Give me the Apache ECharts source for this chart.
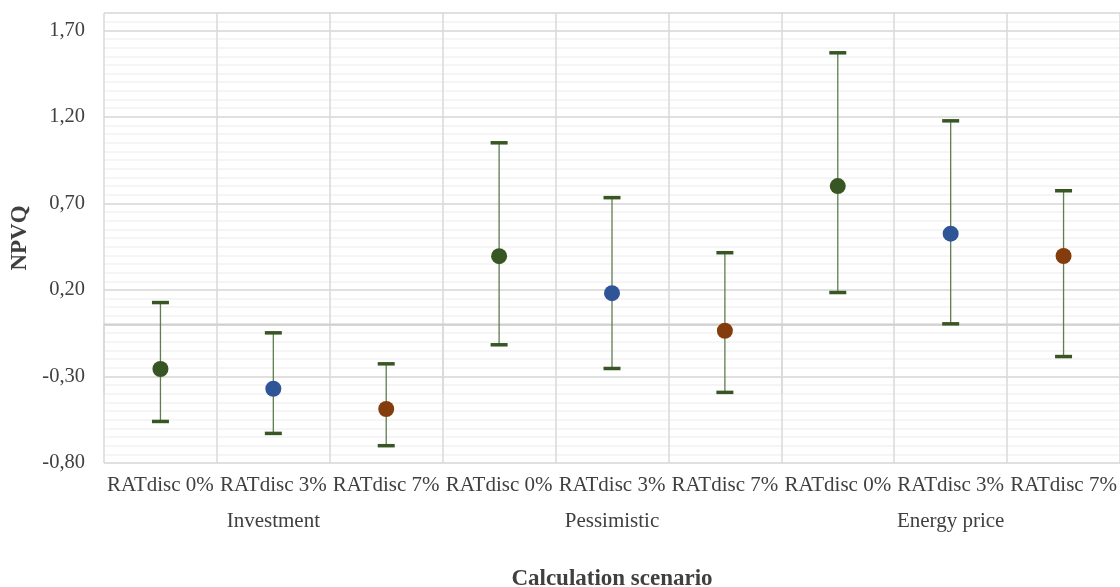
<!DOCTYPE html>
<html>
<head>
<meta charset="utf-8">
<title>NPVQ by calculation scenario</title>
<script src="https://cdn.jsdelivr.net/npm/echarts@6/dist/echarts.min.js"></script>
<style>
  html, body { margin: 0; padding: 0; background: #fff; }
  #chart { width: 1120px; height: 587px; }
</style>
</head>
<body>
<div id="chart"></div>
<script>
// Discount-rate categories, grouped by scenario
const categories = ['RATdisc 0%', 'RATdisc 3%', 'RATdisc 7%',
                    'RATdisc 0%', 'RATdisc 3%', 'RATdisc 7%',
                    'RATdisc 0%', 'RATdisc 3%', 'RATdisc 7%'];
const groups = ['Investment', 'Pessimistic', 'Energy price'];

// Central NPVQ estimate and the lower / upper bounds of each range
const npvq  = [-0.257, -0.371, -0.488, 0.395, 0.181, -0.036, 0.800, 0.525, 0.396];
const lower = [-0.560, -0.629, -0.700, -0.117, -0.254, -0.392, 0.185, 0.004, -0.185];
const upper = [0.127, -0.048, -0.227, 1.050, 0.733, 0.415, 1.570, 1.177, 0.773];

const rateColors = ['#375623', '#2F5597', '#843C0C'];
const textColor = '#404040';
const serif = '"Liberation Serif", "Times New Roman", serif';

const chart = echarts.init(document.getElementById('chart'));

const option = {
  animation: false,
  backgroundColor: '#ffffff',
  grid: { left: 104, right: 0, top: 13, bottom: 124, containLabel: false, outerBoundsMode: 'none' },
  xAxis: [
    {
      type: 'category',
      data: categories,
      boundaryGap: true,
      axisLine: { show: true, lineStyle: { color: '#d9d9d9', width: 1.5 } },
      axisTick: { show: false },
      splitLine: { show: true, interval: 0, lineStyle: { color: '#d9d9d9', width: 1.5 } },
      axisLabel: { interval: 0, margin: 12, fontFamily: serif, fontSize: 21, color: textColor }
    },
    {
      type: 'category',
      data: groups,
      position: 'bottom',
      boundaryGap: true,
      axisLine: { show: false },
      axisTick: { show: true, interval: 0, length: 69, lineStyle: { color: '#d9d9d9', width: 1.5 } },
      splitLine: { show: false },
      axisLabel: { interval: 0, margin: 48, fontFamily: serif, fontSize: 21, color: textColor },
      name: 'Calculation scenario',
      nameLocation: 'middle',
      nameGap: 105,
      nameTextStyle: { fontFamily: serif, fontSize: 23, fontWeight: 'bold', color: textColor }
    }
  ],
  yAxis: [
    {
      type: 'value',
      min: -0.8,
      max: 1.8,
      interval: 0.5,
      z: 2,
      axisLine: { show: false },
      axisTick: { show: false },
      splitLine: { show: true, lineStyle: { color: '#d9d9d9', width: 1.5 } },
      axisLabel: {
        showMaxLabel: false,
        margin: 19,
        fontFamily: serif,
        fontSize: 20.5,
        color: textColor,
        formatter: v => v.toFixed(2).replace('.', ',')
      },
      name: 'NPVQ',
      nameLocation: 'middle',
      nameGap: 68,
      nameRotate: 90,
      nameTextStyle: { fontFamily: serif, fontSize: 23, fontWeight: 'bold', color: textColor }
    },
    {
      // fine grid every 0.05
      type: 'value',
      min: -0.8,
      max: 1.8,
      interval: 0.05,
      z: 0,
      position: 'left',
      axisLine: { show: false },
      axisTick: { show: false },
      axisLabel: { show: false },
      splitLine: { show: true, lineStyle: { color: '#f2f2f2', width: 1.5 } }
    }
  ],
  series: [
    {
      // zero reference line across the plot
      type: 'custom',
      xAxisIndex: 0,
      yAxisIndex: 0,
      z: 1,
      silent: true,
      data: [[0]],
      renderItem: function (params, api) {
        const sys = params.coordSys;
        const y = api.coord([0, api.value(0)])[1];
        return {
          type: 'line',
          shape: { x1: sys.x, y1: y, x2: sys.x + sys.width, y2: y },
          style: { stroke: '#d0d0d0', lineWidth: 2 }
        };
      }
    },
    {
      // range bars with end caps
      type: 'custom',
      xAxisIndex: 0,
      yAxisIndex: 0,
      z: 3,
      data: categories.map((c, i) => [i, lower[i], upper[i]]),
      renderItem: function (params, api) {
        const lo = api.coord([api.value(0), api.value(1)]);
        const hi = api.coord([api.value(0), api.value(2)]);
        const half = 8.5;
        return {
          type: 'group',
          children: [
            {
              type: 'line',
              shape: { x1: lo[0], y1: lo[1], x2: hi[0], y2: hi[1] },
              style: { stroke: '#5f7d50', lineWidth: 1.3 }
            },
            {
              type: 'line',
              shape: { x1: hi[0] - half, y1: hi[1], x2: hi[0] + half, y2: hi[1] },
              style: { stroke: '#375623', lineWidth: 3.5 }
            },
            {
              type: 'line',
              shape: { x1: lo[0] - half, y1: lo[1], x2: lo[0] + half, y2: lo[1] },
              style: { stroke: '#375623', lineWidth: 3.5 }
            }
          ]
        };
      }
    },
    {
      type: 'scatter',
      xAxisIndex: 0,
      yAxisIndex: 0,
      z: 4,
      symbol: 'circle',
      symbolSize: 16,
      data: npvq.map((v, i) => ({
        value: [i, v],
        itemStyle: { color: rateColors[i % 3], opacity: 1 }
      }))
    }
  ]
};

chart.setOption(option);
</script>
</body>
</html>
